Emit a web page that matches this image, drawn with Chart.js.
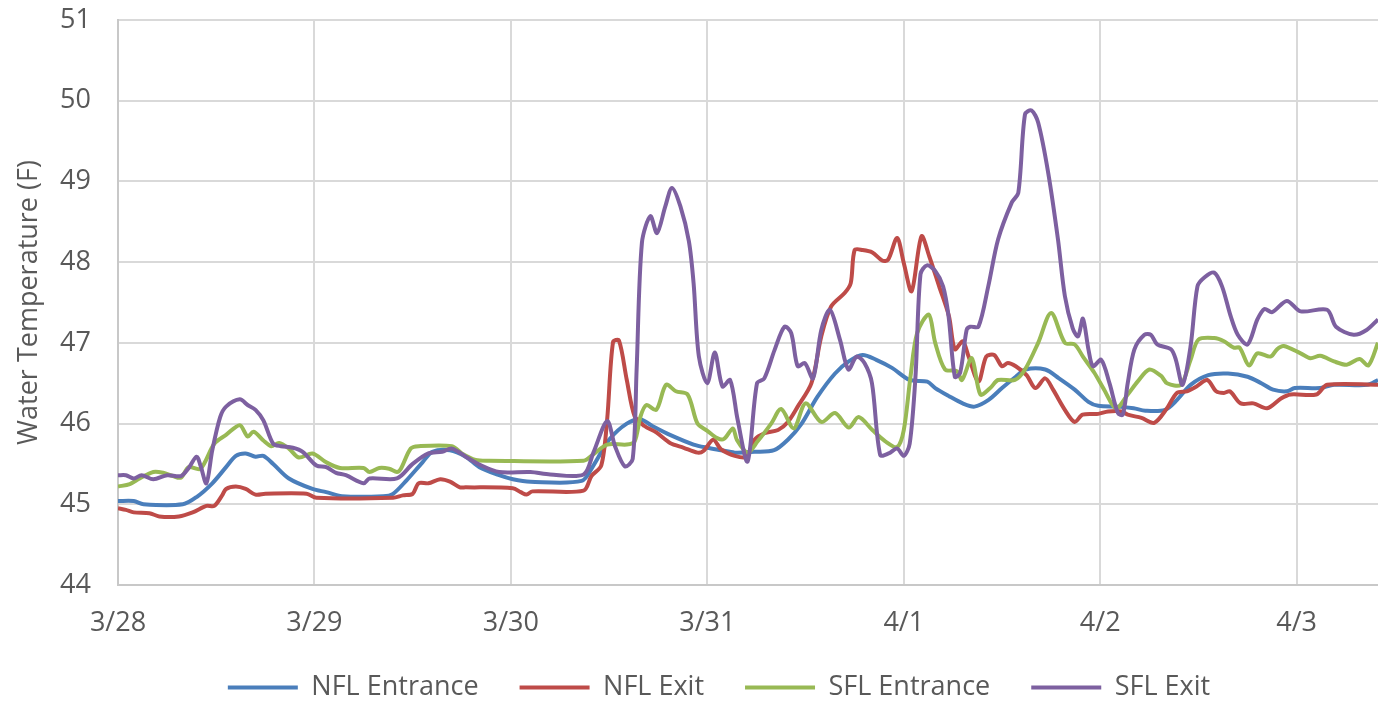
<!DOCTYPE html>
<html>
<head>
<meta charset="utf-8">
<title>Water Temperature</title>
<script src="https://cdn.jsdelivr.net/npm/chart.js@4.4.0/dist/chart.umd.min.js"></script>
<style>
  html, body { margin: 0; padding: 0; background: #ffffff; }
  #wrap { width: 1378px; height: 703px; }
</style>
</head>
<body>
<div id="wrap"><canvas id="tempChart" width="1378" height="703"></canvas></div>
<script>
// x = days since 3/28, y = water temperature (F)
const dayLabels = ["3/28", "3/29", "3/30", "3/31", "4/1", "4/2", "4/3"];
const seriesNames = ["NFL Entrance", "NFL Exit", "SFL Entrance", "SFL Exit"];
const seriesColors = ["#4a7ebb", "#be4b48", "#98b954", "#7d60a0"];
const xMax = 6.414;

const nflEntrance = [
  [0,45.04],[0.08,45.04],[0.13,45.0],[0.33,45.0],[0.40,45.09],[0.48,45.26],[0.55,45.46],[0.60,45.6],
  [0.65,45.63],[0.70,45.59],[0.74,45.6],[0.79,45.5],[0.87,45.32],[0.99,45.19],[1.06,45.15],[1.14,45.1],
  [1.35,45.1],[1.40,45.13],[1.47,45.3],[1.55,45.52],[1.60,45.65],[1.69,45.67],[1.77,45.59],[1.84,45.46],
  [1.94,45.36],[2.01,45.31],[2.10,45.28],[2.36,45.29],[2.42,45.48],[2.50,45.8],[2.59,46.0],[2.66,46.05],
  [2.72,45.97],[2.81,45.86],[2.93,45.74],[3.0,45.7],[3.07,45.67],[3.14,45.64],
  [3.24,45.65],[3.34,45.67],[3.41,45.8],[3.48,46.0],[3.56,46.33],[3.65,46.62],[3.72,46.77],[3.79,46.85],
  [3.86,46.79],[3.94,46.69],[4.03,46.54],[4.12,46.52],[4.16,46.44],[4.23,46.34],[4.30,46.25],[4.36,46.21],
  [4.43,46.29],[4.50,46.44],[4.57,46.58],[4.62,46.67],[4.72,46.67],[4.79,46.56],[4.87,46.42],[4.94,46.27],
  [4.99,46.22],[5.09,46.21],[5.17,46.19],[5.23,46.16],[5.33,46.17],[5.39,46.29],[5.46,46.48],[5.55,46.6],
  [5.65,46.62],[5.75,46.58],[5.82,46.5],[5.88,46.42],[5.95,46.4],[5.99,46.44],[6.12,46.44],[6.19,46.48],
  [6.36,46.48],[6.414,46.54]
];

const nflExit = [
  [0,44.95],[0.04,44.93],[0.08,44.9],[0.16,44.89],[0.21,44.85],[0.31,44.85],[0.38,44.9],[0.45,44.98],
  [0.49,44.98],[0.53,45.11],[0.55,45.19],[0.60,45.22],[0.65,45.19],[0.70,45.12],[0.75,45.13],[0.96,45.13],
  [1.01,45.08],[1.40,45.08],[1.45,45.11],[1.50,45.13],[1.53,45.26],[1.58,45.26],[1.64,45.31],[1.69,45.28],
  [1.74,45.21],[1.77,45.21],[2.01,45.2],[2.05,45.15],[2.08,45.12],[2.11,45.16],[2.37,45.17],[2.41,45.35],
  [2.46,45.48],[2.49,46.05],[2.52,47.01],[2.55,47.03],[2.59,46.54],[2.63,46.09],[2.68,45.97],[2.74,45.89],
  [2.81,45.76],[2.88,45.7],[2.95,45.64],[2.98,45.66],[3.03,45.8],[3.07,45.68],[3.14,45.6],[3.20,45.59],[3.24,45.8],
  [3.29,45.88],[3.36,45.92],[3.41,46.02],[3.46,46.21],[3.53,46.5],[3.58,47.08],[3.63,47.45],[3.70,47.62],
  [3.73,47.74],[3.75,48.15],[3.79,48.15],[3.84,48.12],[3.89,48.02],[3.92,48.03],[3.966,48.3],[4.0,47.99],
  [4.04,47.64],[4.09,48.32],[4.13,48.07],[4.18,47.7],[4.23,47.33],[4.26,46.92],[4.30,47.02],[4.33,46.83],
  [4.38,46.52],[4.42,46.83],[4.46,46.85],[4.50,46.71],[4.53,46.75],[4.57,46.71],[4.625,46.6],[4.67,46.44],
  [4.72,46.56],[4.76,46.42],[4.82,46.17],[4.87,46.02],[4.91,46.11],[4.99,46.12],[5.04,46.15],[5.11,46.15],
  [5.14,46.11],[5.21,46.07],[5.275,46.01],[5.34,46.19],[5.39,46.38],[5.44,46.4],[5.49,46.46],[5.545,46.54],
  [5.59,46.4],[5.63,46.38],[5.66,46.4],[5.715,46.25],[5.78,46.25],[5.85,46.19],[5.92,46.31],[5.97,46.36],
  [6.10,46.36],[6.155,46.48],[6.414,46.48]
];

const sflEntrance = [
  [0,45.22],[0.06,45.25],[0.11,45.32],[0.18,45.4],[0.23,45.39],[0.28,45.35],[0.32,45.33],[0.36,45.46],
  [0.42,45.44],[0.49,45.75],[0.55,45.86],[0.62,45.98],[0.66,45.84],[0.69,45.9],[0.74,45.79],[0.78,45.72],
  [0.82,45.76],[0.87,45.69],[0.92,45.58],[0.99,45.63],[1.06,45.52],[1.13,45.45],[1.25,45.45],[1.28,45.4],
  [1.33,45.45],[1.38,45.44],[1.42,45.4],[1.44,45.44],[1.49,45.69],[1.53,45.72],[1.70,45.72],[1.75,45.63],
  [1.82,45.55],[1.89,45.54],[2.37,45.54],[2.42,45.62],[2.49,45.74],[2.59,45.74],[2.63,45.78],[2.66,46.09],
  [2.69,46.23],[2.74,46.17],[2.79,46.48],[2.84,46.4],[2.90,46.36],[2.95,46.0],[3.0,45.91],[3.05,45.82],[3.085,45.81],
  [3.13,45.94],[3.15,45.8],[3.205,45.64],[3.256,45.78],[3.325,46.0],[3.376,46.18],[3.44,45.94],[3.50,46.25],
  [3.58,46.02],[3.65,46.13],[3.72,45.95],[3.77,46.08],[3.84,45.92],[3.906,45.78],[3.966,45.71],[4.0,45.92],
  [4.034,46.58],[4.068,47.12],[4.127,47.35],[4.16,47.0],[4.21,46.67],[4.27,46.65],[4.296,46.54],[4.346,46.81],
  [4.39,46.36],[4.44,46.44],[4.48,46.54],[4.566,46.54],[4.617,46.67],[4.684,47.0],[4.75,47.37],[4.82,47.0],
  [4.87,46.98],[4.912,46.83],[4.97,46.63],[5.02,46.42],[5.08,46.19],[5.14,46.36],[5.19,46.52],[5.25,46.67],
  [5.31,46.59],[5.34,46.5],[5.41,46.48],[5.46,46.79],[5.50,47.04],[5.58,47.06],[5.63,47.02],[5.68,46.94],
  [5.71,46.94],[5.757,46.72],[5.80,46.87],[5.867,46.83],[5.90,46.92],[5.934,46.96],[6.02,46.87],[6.07,46.81],
  [6.12,46.84],[6.19,46.77],[6.255,46.73],[6.32,46.8],[6.365,46.72],[6.414,47.0]
];

const sflExit = [
  [0,45.36],[0.04,45.36],[0.08,45.32],[0.12,45.36],[0.18,45.31],[0.25,45.36],[0.32,45.35],[0.36,45.45],
  [0.40,45.59],[0.42,45.48],[0.45,45.26],[0.48,45.67],[0.52,46.08],[0.55,46.21],[0.62,46.3],[0.66,46.23],
  [0.70,46.17],[0.74,46.04],[0.79,45.75],[0.83,45.72],[0.89,45.7],[0.94,45.65],[1.01,45.48],[1.06,45.46],
  [1.11,45.39],[1.16,45.36],[1.25,45.26],[1.28,45.32],[1.42,45.32],[1.50,45.5],[1.58,45.63],[1.65,45.65],
  [1.70,45.69],[1.77,45.59],[1.85,45.48],[1.94,45.4],[2.10,45.4],[2.20,45.37],[2.37,45.37],[2.42,45.64],
  [2.49,46.03],[2.53,45.72],[2.58,45.47],[2.62,45.56],[2.64,46.67],[2.667,48.24],[2.71,48.57],
  [2.744,48.36],[2.786,48.69],[2.82,48.92],[2.863,48.69],[2.906,48.26],[2.93,47.74],[2.957,46.83],[3.0,46.5],
  [3.038,46.88],[3.077,46.46],[3.116,46.54],[3.154,46.05],[3.205,45.53],[3.253,46.5],[3.29,46.56],[3.342,46.91],
  [3.393,47.2],[3.427,47.12],[3.46,46.71],[3.496,46.75],[3.538,46.56],[3.58,47.16],[3.624,47.41],[3.675,47.04],
  [3.718,46.67],[3.76,46.83],[3.80,46.75],[3.838,46.5],[3.88,45.61],[3.923,45.63],[3.966,45.69],[4.0,45.6],
  [4.03,45.75],[4.06,46.6],[4.085,47.85],[4.118,47.96],[4.16,47.89],[4.20,47.7],[4.228,47.33],[4.26,46.58],
  [4.287,46.63],[4.32,47.16],[4.338,47.2],[4.38,47.2],[4.43,47.7],[4.48,48.28],[4.55,48.74],[4.583,48.86],
  [4.617,49.83],[4.65,49.88],[4.684,49.73],[4.735,49.11],[4.785,48.28],[4.82,47.58],[4.86,47.18],[4.887,47.08],
  [4.912,47.3],[4.94,46.92],[4.963,46.71],[5.005,46.79],[5.047,46.5],[5.09,46.13],[5.115,46.11],[5.14,46.5],
  [5.174,46.92],[5.225,47.1],[5.258,47.1],[5.29,46.98],[5.36,46.92],[5.385,46.79],[5.419,46.48],[5.46,46.96],
  [5.495,47.7],[5.53,47.81],[5.58,47.87],[5.62,47.7],[5.664,47.33],[5.70,47.1],[5.75,46.98],[5.80,47.29],
  [5.836,47.42],[5.875,47.38],[5.95,47.52],[6.02,47.39],[6.155,47.41],[6.20,47.2],[6.29,47.1],[6.356,47.16],
  [6.414,47.29]
];

const allSeries = [nflEntrance, nflExit, sflEntrance, sflExit];

const TEXT_COLOR = "#595959";
const GRID_COLOR = "#d9d9d9";
const FONT_FAMILY = "'Open Sans', sans-serif";
const FONT_SIZE = 27;

// Excel-style legend: a little right of centre, pulled up over the axis box
const legendShift = {
  id: "legendShift",
  afterLayout(chart) {
    chart.legend.left += 60;
    chart.legend.top -= 8;
  }
};

const datasets = allSeries.map((pts, i) => ({
  label: seriesNames[i],
  data: pts.map(([x, y]) => ({ x, y })),
  borderColor: seriesColors[i],
  backgroundColor: seriesColors[i],
  borderWidth: 4,
  pointRadius: 0,
  tension: 0.3,
  order: allSeries.length - 1 - i // last series on top, like Excel
}));

new Chart(document.getElementById("tempChart"), {
  type: "line",
  data: { datasets },
  plugins: [legendShift],
  options: {
    responsive: false,
    animation: false,
    layout: { padding: 0 },
    plugins: {
      tooltip: { enabled: false },
      legend: {
        position: "bottom",
        maxHeight: 62,
        labels: {
          color: TEXT_COLOR,
          font: { family: FONT_FAMILY, size: FONT_SIZE },
          boxWidth: 70,
          boxHeight: 4,
          padding: 41,
          sort: (a, b) => a.datasetIndex - b.datasetIndex,
          generateLabels: (chart) =>
            Chart.defaults.plugins.legend.labels.generateLabels(chart).map((item) => ({
              ...item,
              lineWidth: 0
            }))
        }
      }
    },
    scales: {
      x: {
        type: "linear",
        min: 0,
        max: xMax,
        afterBuildTicks: (scale) => {
          scale.ticks = dayLabels.map((_, i) => ({ value: i }));
        },
        afterFit: (scale) => { scale.height = 56; },
        ticks: {
          padding: 22,
          color: TEXT_COLOR,
          font: { family: FONT_FAMILY, size: FONT_SIZE },
          maxRotation: 0,
          autoSkip: false,
          callback: (v) => dayLabels[v]
        },
        grid: { color: GRID_COLOR, lineWidth: 2, drawTicks: false },
        border: { color: "#c8c8c8", width: 2 }
      },
      y: {
        min: 44,
        max: 51,
        afterFit: (scale) => {
          scale.width = 118;
          scale.paddingTop = 20;
          scale.paddingBottom = 0;
        },
        ticks: {
          stepSize: 1,
          padding: 27,
          color: TEXT_COLOR,
          font: { family: FONT_FAMILY, size: FONT_SIZE }
        },
        grid: { color: GRID_COLOR, lineWidth: 2, drawTicks: false },
        border: { color: "#c8c8c8", width: 2 },
        title: {
          display: true,
          text: "Water Temperature (F)",
          color: TEXT_COLOR,
          font: { family: FONT_FAMILY, size: FONT_SIZE },
          padding: { top: 13, bottom: 0 }
        }
      }
    }
  }
});
</script>
</body>
</html>
